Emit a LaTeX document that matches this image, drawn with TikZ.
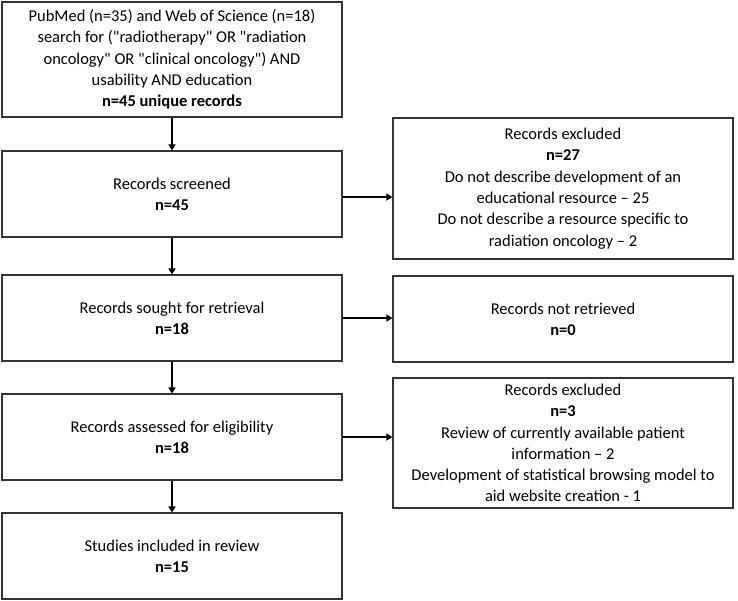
\documentclass[tikz,border=0pt]{standalone}
\usepackage{fontspec}
\newfontfamily\carl{Carlito}
\usetikzlibrary{arrows.meta}
\begin{document}
\begin{tikzpicture}[x=1pt,y=-1pt,
  box/.style={draw=black!80, line width=1.1pt, fill=white, align=center,
    font=\carl\fontsize{16.5}{21.3}\selectfont, inner sep=0pt},
  arr/.style={line width=1.8pt, -{Triangle[length=6pt,width=7pt]}}]
\useasboundingbox (0,0) rectangle (738,600);
\fill[white] (0,0) rectangle (738,600);
\node[box, minimum width=340pt, minimum height=115pt] (b1) at (172,59.5)
  {PubMed (n=35) and Web of Science (n=18)\\search for ("radiotherapy" OR "radiation\\oncology" OR "clinical oncology") AND\\usability AND education\\\textbf{n=45 unique records}};
\node[box, minimum width=340pt, minimum height=86pt] (b2) at (172,194)
  {Records screened\\\textbf{n=45}};
\node[box, minimum width=340pt, minimum height=86pt] (b3) at (172,318)
  {Records sought for retrieval\\\textbf{n=18}};
\node[box, minimum width=340pt, minimum height=86pt] (b4) at (172,437)
  {Records assessed for eligibility\\\textbf{n=18}};
\node[box, minimum width=340pt, minimum height=86pt] (b5) at (172,556)
  {Studies included in review\\\textbf{n=15}};
\node[box, minimum width=340pt, minimum height=141pt] (r1) at (563,188.5)
  {Records excluded\\\textbf{n=27}\\Do not describe development of an\\educational resource \textendash{} 25\\Do not describe a resource specific to\\radiation oncology \textendash{} 2};
\node[box, minimum width=340pt, minimum height=86pt] (r2) at (563,319)
  {Records not retrieved\\\textbf{n=0}};
\node[box, minimum width=340pt, minimum height=130pt] (r3) at (563,443)
  {Records excluded\\\textbf{n=3}\\Review of currently available patient\\information \textendash{} 2\\Development of statistical browsing model to\\aid website creation - 1};
\draw[arr] (b1.south) -- (b2.north);
\draw[arr] (b2.south) -- (b3.north);
\draw[arr] (b3.south) -- (b4.north);
\draw[arr] (b4.south) -- (b5.north);
\draw[arr] ([yshift=-3pt]b2.east) -- ([yshift=-3pt]b2.east -| r1.west);
\draw[arr] (b3.east) -- (b3.east -| r2.west);
\draw[arr] (b4.east) -- (b4.east -| r3.west);
\end{tikzpicture}
\end{document}
